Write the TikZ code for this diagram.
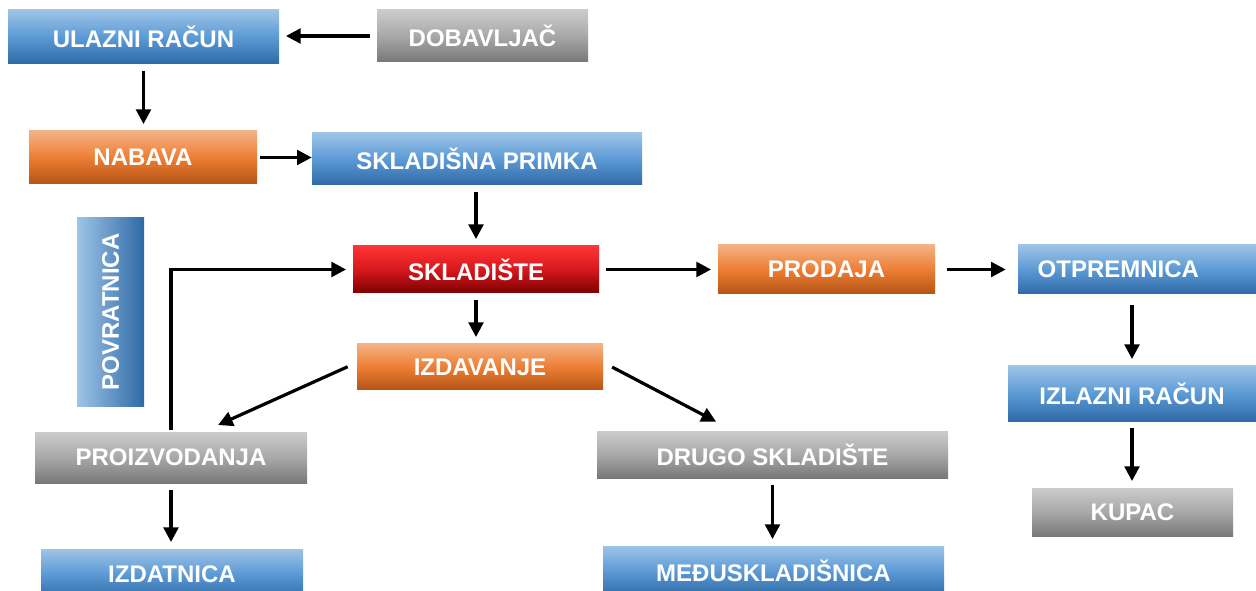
\documentclass[tikz,border=0pt]{standalone}
\usepackage{fontspec}
\setmainfont{Liberation Sans}
\usetikzlibrary{arrows.meta,calc}
\definecolor{bTop}{RGB}{158,196,231}
\definecolor{bMid}{RGB}{92,154,213}
\definecolor{bBot}{RGB}{46,106,166}
\definecolor{oTop}{RGB}{244,178,132}
\definecolor{oMid}{RGB}{237,126,52}
\definecolor{oBot}{RGB}{180,84,20}
\definecolor{gTop}{RGB}{204,204,204}
\definecolor{gMid}{RGB}{168,168,168}
\definecolor{gBot}{RGB}{120,120,120}
\definecolor{rTop}{RGB}{255,52,52}
\definecolor{rMid}{RGB}{214,24,30}
\definecolor{rBot}{RGB}{126,0,0}
\tikzset{
  box/.style 2 args={rectangle, inner sep=0pt, minimum width=#1*0.75pt, minimum height=#2*0.75pt,
    text=white, font=\fontsize{18}{20}\selectfont\bfseries},
  blue/.style={top color=bTop, bottom color=bBot, middle color=bMid},
  orange/.style={top color=oTop, bottom color=oBot, middle color=oMid},
  grey/.style={top color=gTop, bottom color=gBot, middle color=gMid},
  red/.style={top color=rTop, bottom color=rBot, middle color=rMid},
  arr/.style={-{Triangle[length=11pt,width=11pt]}, line width=2.4pt, shorten <=5pt, shorten >=5pt},
}
\begin{document}
\begin{tikzpicture}[x=0.75pt,y=-0.75pt]
\useasboundingbox (0,0) rectangle (1256,591);
% boxes
\node[box={271}{54}, blue] (ulaz) at (143.5,37) {ULAZNI RAČUN};
\node[box={211}{52}, grey] (dob) at (482.5,36) {DOBAVLJAČ};
\node[box={228}{53}, orange] (nab) at (143,157.5) {NABAVA};
\node[box={330}{52}, blue] (prim) at (477,159) {SKLADIŠNA PRIMKA};
\node[box={246}{47}, red] (skl) at (476,269.5) {SKLADIŠTE};
\node[box={217}{49}, orange] (prod) at (826.5,269.5) {PRODAJA};
\node[box={238}{49}, blue] (otp) at (1137,269.5) {OTPREMNICA\kern28pt};
\node[box={248}{55}, blue] (izl) at (1132,393.5) {IZLAZNI RAČUN};
\node[box={201}{48}, grey] (kup) at (1132.5,512) {KUPAC};
\node[box={246}{46}, orange] (izd) at (480,367) {IZDAVANJE};
\node[box={272}{51}, grey] (pro) at (171,457.5) {PROIZVODANJA};
\node[box={351}{47}, grey] (dru) at (772.5,454.5) {DRUGO SKLADIŠTE};
\node[box={341}{50}, blue] (med) at (773.5,571) {MEĐUSKLADIŠNICA};
\node[box={262}{50}, blue] (idt) at (172,574) {IZDATNICA};
\node[box={67}{188}, left color=bTop, right color=bBot] (pov) at (110.5,312) {};
\node[rotate=90, text=white, font=\fontsize{18}{20}\selectfont\bfseries] (povt) at (pov) {POVRATNICA};
% arrows
\draw[arr] (dob.west) -- (dob.west -| ulaz.east);
\draw[arr] (ulaz.south) -- (ulaz.south |- nab.north);
\draw[arr, shorten <=2pt, shorten >=0pt] (nab.east) -- (nab.east -| prim.west);
\draw[arr] (skl.north |- prim.south) -- (skl.north);
\draw[arr] (skl.east) -- (prod.west);
\draw[arr, shorten <=9pt, shorten >=9pt] (prod.east) -- (otp.west);
\draw[arr, shorten <=8pt] (izl.north |- otp.south) -- (izl.north);
\draw[arr] (izl.south) -- (izl.south |- kup.north);
\draw[arr] (skl.south) -- (skl.south |- izd.north);
\draw[arr] ($(izd.west)+(-3,-3)$) -- ($(pro.north)+(41,-4)$);
\draw[arr] ($(izd.east)+(3,-3)$) -- ($(dru.north)+(-50.5,-6)$);
\draw[arr] (dru.south) -- (dru.south |- med.north);
\draw[arr] (pro.south) -- (pro.south |- idt.north);
\draw[arr, shorten <=1pt] (pro.north) |- (skl.west);
\end{tikzpicture}
\end{document}
